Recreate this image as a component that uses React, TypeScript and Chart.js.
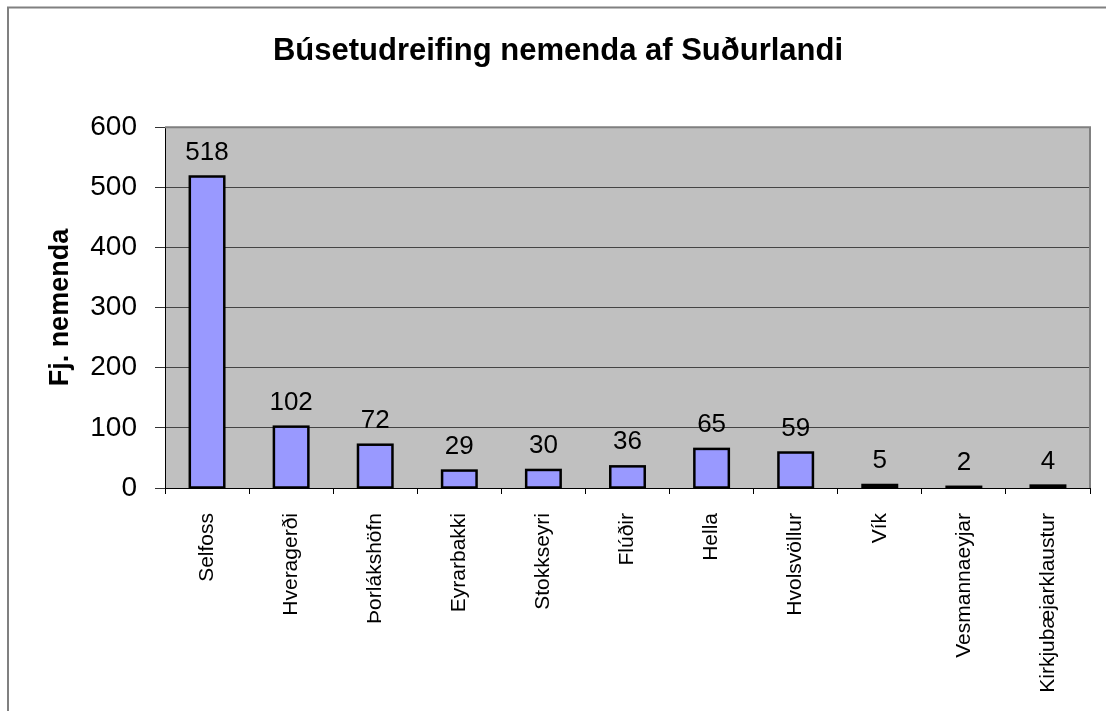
import React, { useEffect, useRef } from "react";
import { Chart, registerables } from "chart.js";

Chart.register(...registerables);

const categories = [
  "Selfoss",
  "Hveragerði",
  "Þorlákshöfn",
  "Eyrarbakki",
  "Stokkseyri",
  "Flúðir",
  "Hella",
  "Hvolsvöllur",
  "Vík",
  "Vesmannaeyjar",
  "Kirkjubæjarklaustur",
];
const students = [518, 102, 72, 29, 30, 36, 65, 59, 5, 2, 4];
const yTicks = [0, 100, 200, 300, 400, 500, 600];
const chartTitle = "Búsetudreifing nemenda af Suðurlandi";
const yTitle = "Fj. nemenda";

const FONT = '"Liberation Sans", Arial, sans-serif';

const framePlugin = {
  id: "frame",
  beforeDraw(chart: any) {
    const { ctx, chartArea } = chart;
    ctx.save();
    ctx.fillStyle = "#ffffff";
    ctx.fillRect(0, 0, chart.width, chart.height);
    ctx.strokeStyle = "#808080";
    ctx.lineWidth = 2;
    ctx.beginPath();
    ctx.moveTo(8, chart.height);
    ctx.lineTo(8, 7.5);
    ctx.lineTo(chart.width, 7.5);
    ctx.stroke();
    ctx.fillStyle = "#C0C0C0";
    ctx.fillRect(
      chartArea.left,
      chartArea.top,
      chartArea.right - chartArea.left,
      chartArea.bottom - chartArea.top
    );
    ctx.restore();
  },
  afterDraw(chart: any) {
    const { ctx, chartArea } = chart;
    ctx.save();
    ctx.strokeStyle = "#808080";
    ctx.lineWidth = 2;
    ctx.beginPath();
    ctx.moveTo(chartArea.left, chartArea.top);
    ctx.lineTo(chartArea.right, chartArea.top);
    ctx.lineTo(chartArea.right, chartArea.bottom);
    ctx.stroke();
    ctx.restore();
  },
};

const barOutlineAndLabels = {
  id: "barOutlineAndLabels",
  afterDatasetsDraw(chart: any) {
    const { ctx } = chart;
    const meta = chart.getDatasetMeta(0);
    const data = chart.data.datasets[0].data;
    ctx.save();
    ctx.strokeStyle = "#000";
    ctx.lineWidth = 2.5;
    meta.data.forEach((bar: any) => {
      const half = bar.width / 2;
      ctx.strokeRect(bar.x - half, bar.y, bar.width, bar.base - bar.y);
    });
    ctx.fillStyle = "#000";
    ctx.font = `26px ${FONT}`;
    ctx.textAlign = "center";
    ctx.textBaseline = "alphabetic";
    meta.data.forEach((bar: any, i: number) => {
      ctx.fillText(String(data[i]), bar.x, bar.y - 17);
    });
    ctx.restore();
  },
};

export default function App() {
  const ref = useRef<HTMLCanvasElement | null>(null);

  useEffect(() => {
    if (!ref.current) return;
    const chart = new Chart(ref.current, {
      type: "bar",
      data: {
        labels: categories,
        datasets: [
          {
            data: students,
            backgroundColor: "#9999FF",
            borderWidth: 0,
            barPercentage: 0.41,
            categoryPercentage: 1,
          },
        ],
      },
      options: {
        animation: false,
        responsive: false,
        maintainAspectRatio: false,
        layout: { padding: { left: 26, right: 16, top: 0, bottom: 0 } },
        plugins: {
          legend: { display: false },
          tooltip: { enabled: false },
          title: {
            display: true,
            text: chartTitle,
            color: "#000",
            font: { family: FONT, size: 31, weight: "bold", lineHeight: 1.2 },
            padding: { top: 33, bottom: 57 },
          },
        },
        scales: {
          x: {
            offset: true,
            afterFit(scale: any) {
              scale.height = 223;
            },
            grid: {
              offset: true,
              drawOnChartArea: false,
              drawTicks: true,
              tickLength: 6,
              color: "#000",
            },
            border: { color: "#000", width: 1 },
            ticks: {
              autoSkip: false,
              minRotation: 90,
              maxRotation: 90,
              padding: 19,
              color: "#000",
              font: { family: FONT, size: 21 },
            },
          },
          y: {
            min: 0,
            max: 600,
            afterFit(scale: any) {
              scale.width = 139;
            },
            afterBuildTicks(scale: any) {
              scale.ticks = yTicks.map((v) => ({ value: v }));
            },
            grid: {
              color: "#444",
              lineWidth: 1,
              drawTicks: true,
              tickLength: 10,
              tickColor: "#333",
            },
            border: { color: "#000", width: 1 },
            ticks: {
              padding: 18,
              color: "#000",
              font: { family: FONT, size: 28 },
            },
            title: {
              display: true,
              text: yTitle,
              color: "#000",
              font: { family: FONT, size: 27, weight: "bold", lineHeight: 1.2 },
              padding: { top: 18, bottom: 0 },
            },
          },
        },
      },
      plugins: [framePlugin, barOutlineAndLabels],
    });
    return () => chart.destroy();
  }, []);

  return (
    <div
      style={{
        position: "fixed",
        left: 0,
        top: 0,
        width: 1106,
        height: 711,
        overflow: "hidden",
        background: "#fff",
      }}
    >
      <canvas ref={ref} width={1106} height={711} style={{ display: "block" }} />
    </div>
  );
}
